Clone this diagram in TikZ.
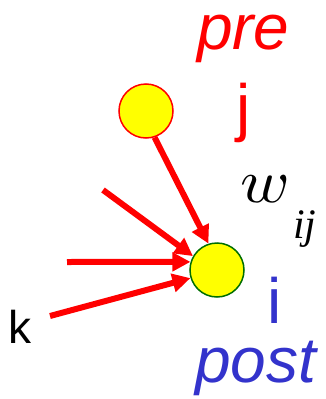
\documentclass[tikz,border=0pt]{standalone}
\usepackage{fontspec}
\setmainfont{Liberation Sans}
\newfontfamily\serifw{Liberation Serif}
\newfontfamily\lmmath{Latin Modern Math}
\usetikzlibrary{arrows.meta}
\definecolor{prered}{RGB}{255,0,0}
\definecolor{postblue}{RGB}{51,51,204}
\definecolor{cellyellow}{RGB}{255,255,0}
\definecolor{cellgreen}{RGB}{0,110,0}
\begin{document}
\begin{tikzpicture}[x=1pt,y=-1pt,
  cell/.style={circle,fill=cellyellow,line width=1.5pt,minimum size=54pt,inner sep=0pt},
  syn/.style={draw=prered,line width=6pt,-{Triangle[length=18pt,width=18pt]}},
  lbl/.style={anchor=base west,inner sep=0pt,outer sep=0pt}]
\useasboundingbox (0,0) rectangle (326,399);
\node[cell,draw=prered] (j) at (146,111) {};
\node[cell,draw=cellgreen] (i) at (217,270) {};
\coordinate (t2) at (103,190);
\coordinate (t3) at (67,262);
\coordinate (t4) at (50,316);
\draw[syn] (j.-72) -- (i.108);
\draw[syn] (t2) -- (i.150);
\draw[syn] (t3) -- (i.163);
\draw[syn] (t4) -- (i.197);
\node[lbl,text=prered,font=\fontsize{64}{64}\selectfont\itshape] (pre) at (197,49) {pre};
\node[lbl,text=prered,font=\fontsize{64}{64}\selectfont] (jl) at (236,129) {j};
\node[lbl,font=\lmmath\fontsize{62}{62}\selectfont] (w) at (240,202) {\scalebox{1.08}[1]{\symbol{"1D464}}};
\node[lbl,font=\serifw\fontsize{42}{42}\selectfont\itshape] (ij) at (293,238) {ij};
\node[lbl,text=postblue,font=\fontsize{64}{64}\selectfont] (il) at (267,323) {i};
\node[lbl,text=postblue,font=\fontsize{64}{64}\selectfont\itshape] (post) at (195,382) {post};
\node[lbl,font=\fontsize{46}{46}\selectfont] (k) at (9,343) {k};
\end{tikzpicture}
\end{document}
